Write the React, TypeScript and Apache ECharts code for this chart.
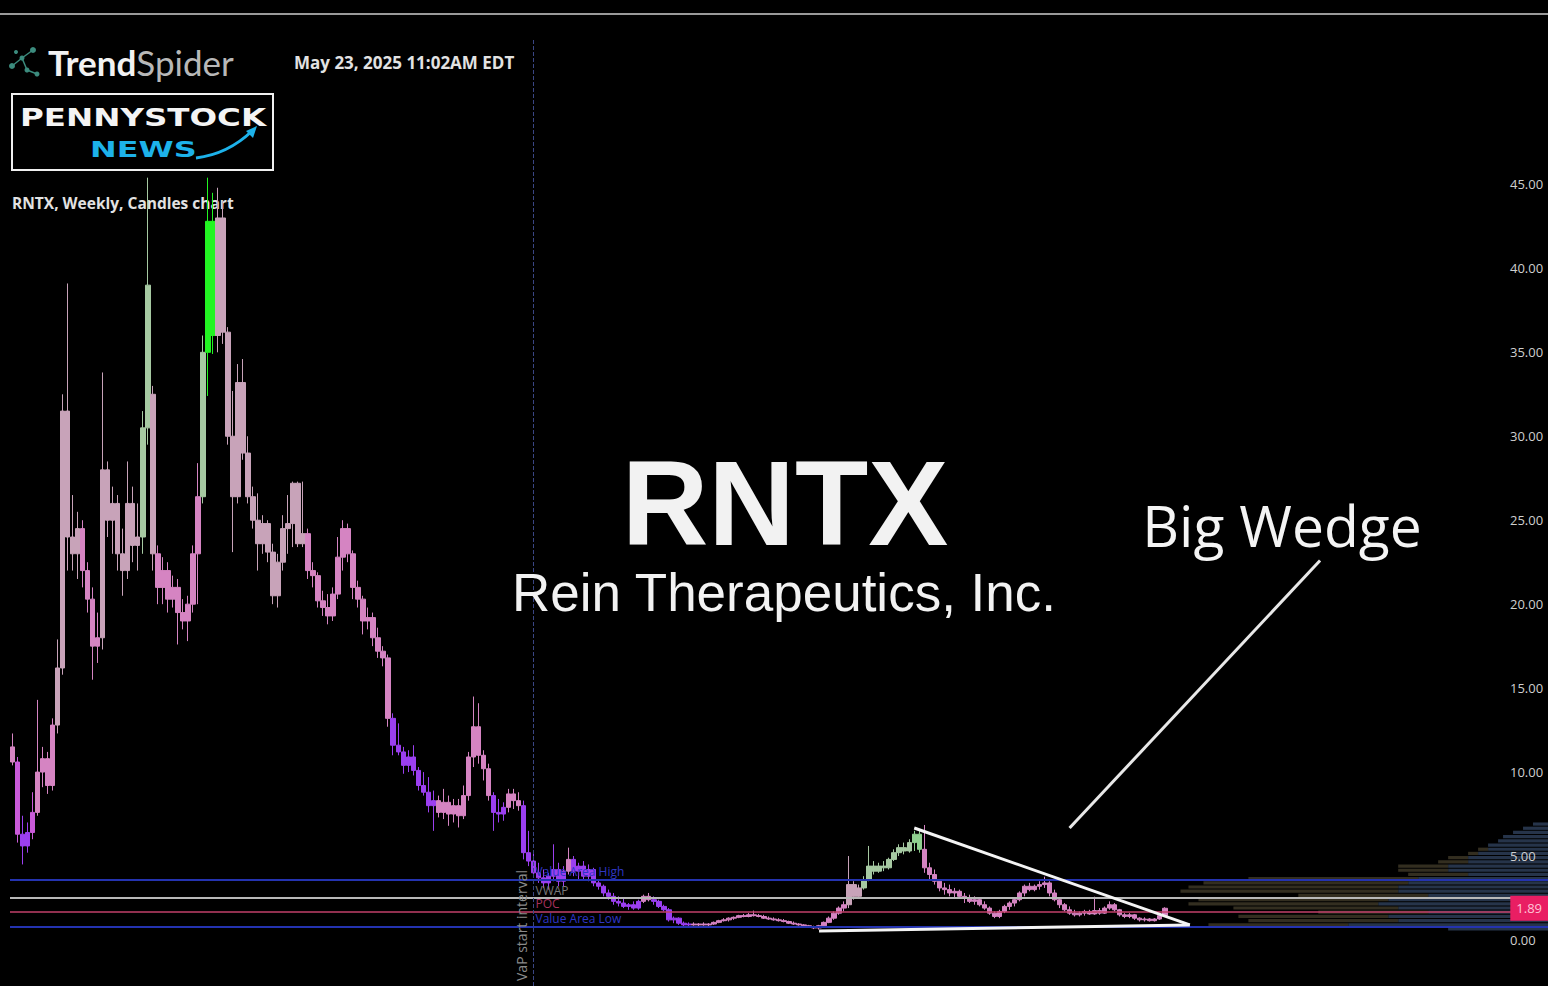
import React, { useEffect, useRef } from "react";
import * as echarts from "echarts";

// Weekly OHLC: [open, close, low, high]
const ohlcRally: number[][] = [
  [11.5, 10.6, 10.4, 12.3], [10.6, 6.3, 5.8, 10.9], [6.3, 5.6, 4.5, 7.4], [5.6, 6.4, 5.2, 7.0],
  [6.4, 7.6, 6.0, 8.8], [7.6, 10.0, 7.4, 14.3], [10.0, 10.8, 9.1, 11.5], [10.8, 9.2, 8.7, 11.2],
  [9.2, 12.8, 8.9, 13.2], [12.8, 16.2, 12.3, 17.9], [16.2, 31.5, 15.8, 32.5], [31.5, 24.0, 22.0, 39.1],
  [24.0, 23.0, 22.0, 26.5], [23.0, 24.5, 21.5, 25.5], [24.5, 22.0, 21.0, 25.0], [22.0, 20.3, 19.5, 22.5],
  [20.3, 17.5, 15.5, 21.0], [17.5, 18.0, 16.5, 19.5], [18.0, 28.0, 17.3, 33.8], [28.0, 25.0, 24.0, 28.5],
  [25.0, 26.0, 23.0, 27.0], [26.0, 23.0, 22.0, 26.5], [23.0, 22.0, 20.5, 24.5], [22.0, 26.0, 21.5, 28.5],
  [26.0, 23.5, 22.5, 27.0], [23.5, 24.0, 22.0, 26.0], [24.0, 30.5, 23.0, 31.5], [30.5, 39.0, 29.5, 45.4],
  [32.5, 23.0, 22.0, 33.0], [23.0, 21.0, 20.0, 23.5], [21.0, 22.0, 20.0, 22.8], [22.0, 20.3, 19.5, 22.5],
  [20.3, 21.0, 19.8, 21.7], [21.0, 19.5, 17.6, 21.5], [19.5, 19.0, 18.5, 20.3], [19.0, 20.0, 17.8, 20.5],
  [20.0, 23.0, 19.5, 23.5], [23.0, 26.4, 20.0, 28.4], [26.4, 35.0, 26.0, 36.0], [35.0, 42.8, 32.4, 45.4],
  [42.8, 36.0, 34.9, 44.5], [36.0, 43.0, 35.0, 44.8], [43.0, 36.2, 35.5, 44.0], [36.2, 30.0, 29.5, 36.5],
  [30.0, 26.4, 23.1, 32.7], [26.4, 33.2, 26.0, 34.3], [33.2, 29.0, 28.6, 34.6], [29.0, 26.4, 26.0, 30.0],
  [26.4, 25.0, 24.5, 27.0], [25.0, 23.6, 22.0, 26.6], [23.6, 24.8, 23.0, 25.3], [24.8, 23.1, 22.5, 25.0],
  [23.1, 20.5, 20.0, 23.6], [20.5, 22.5, 19.8, 23.0], [22.5, 24.5, 22.0, 25.3], [24.5, 24.8, 23.0, 26.5],
  [24.8, 27.2, 23.4, 27.3], [27.2, 23.6, 23.4, 27.3], [23.6, 24.2, 23.4, 27.3],
];

const ohlcDecline: number[][] = [
  [24.2, 22.0, 21.5, 24.5], [22.0, 21.7, 21.0, 22.5], [21.7, 20.2, 19.8, 21.9], [20.2, 19.8, 19.3, 20.8],
  [19.8, 19.3, 18.8, 20.6], [19.3, 20.6, 19.0, 21.0], [20.6, 22.8, 20.3, 24.0], [22.8, 24.5, 22.0, 25.0],
  [24.5, 23.0, 22.5, 24.8], [23.0, 21.0, 20.3, 23.2], [21.0, 20.3, 19.8, 21.4], [20.3, 19.0, 18.2, 20.5],
  [19.0, 19.2, 18.5, 19.8], [19.2, 18.0, 17.5, 19.5], [18.0, 17.2, 16.8, 18.6], [17.2, 16.8, 16.3, 17.5],
  [16.8, 13.2, 12.7, 17.0], [13.2, 11.6, 11.0, 13.5], [11.6, 11.2, 11.0, 12.9], [11.2, 10.4, 9.9, 11.5],
  [10.4, 10.9, 10.0, 11.3], [10.9, 10.1, 9.8, 11.6], [10.1, 9.2, 8.9, 10.3], [9.2, 8.8, 8.6, 10.0],
  [8.8, 8.0, 7.6, 9.7], [8.0, 8.3, 6.5, 8.9], [8.3, 7.6, 7.3, 8.6], [7.6, 8.2, 7.2, 9.0],
  [8.2, 7.5, 6.8, 8.6], [7.5, 8.0, 7.0, 8.4], [8.0, 7.4, 6.7, 8.4], [7.4, 8.6, 7.2, 9.2],
  [8.6, 10.9, 8.3, 11.2], [10.9, 12.7, 10.3, 14.5], [12.7, 11.0, 10.5, 14.1], [11.0, 10.2, 9.5, 11.3],
  [10.2, 8.6, 8.3, 10.5], [8.6, 7.6, 6.5, 8.8], [7.6, 7.5, 7.0, 8.4], [7.5, 7.9, 7.1, 8.2],
  [7.9, 8.7, 7.6, 9.0], [8.7, 8.3, 7.8, 9.0], [8.3, 8.0, 7.7, 8.8],
];

const ohlcBase: number[][] = [
  [8.0, 5.2, 4.8, 8.3], [5.2, 4.7, 4.4, 6.5], [4.7, 4.0, 3.8, 5.2], [4.0, 3.7, 3.4, 4.6],
  [3.7, 3.4, 3.1, 4.2], [3.4, 3.8, 3.0, 4.0], [3.8, 4.2, 3.5, 5.7], [4.2, 3.5, 3.2, 4.6],
  [3.5, 4.1, 3.2, 4.4], [4.1, 4.8, 3.9, 5.5], [4.8, 4.1, 3.8, 5.0], [4.1, 4.4, 3.6, 4.6],
  [4.4, 3.8, 3.6, 4.7], [3.8, 4.2, 3.5, 4.5], [4.2, 3.4, 3.2, 4.3], [3.4, 3.2, 3.0, 3.6],
  [3.2, 2.8, 2.6, 3.3], [2.8, 2.6, 2.4, 3.0], [2.6, 2.3, 2.1, 2.8], [2.3, 2.2, 2.0, 2.6],
  [2.2, 2.0, 1.9, 2.5], [2.0, 2.1, 1.8, 2.2], [2.1, 1.9, 1.8, 2.3], [1.9, 2.3, 1.8, 2.4],
  [2.3, 2.6, 2.2, 2.7], [2.6, 2.4, 2.3, 2.8], [2.4, 2.3, 2.1, 2.6], [2.3, 2.0, 1.9, 2.4],
  [2.0, 1.8, 1.7, 2.1], [1.8, 1.2, 1.1, 1.9], [1.2, 1.3, 1.0, 1.4], [1.3, 1.0, 0.9, 1.35],
  [1.0, 0.9, 0.8, 1.1], [0.9, 0.95, 0.8, 1.05], [0.95, 0.9, 0.85, 1.05], [0.9, 0.95, 0.8, 1.0],
  [0.95, 0.9, 0.85, 1.05], [0.9, 0.95, 0.8, 1.0], [0.95, 1.05, 0.9, 1.1], [1.05, 1.15, 1.0, 1.2],
  [1.15, 1.2, 1.1, 1.3], [1.2, 1.3, 1.1, 1.35], [1.3, 1.35, 1.2, 1.4], [1.35, 1.45, 1.3, 1.5],
  [1.45, 1.4, 1.35, 1.55], [1.4, 1.5, 1.35, 1.6], [1.5, 1.45, 1.4, 1.75], [1.45, 1.4, 1.35, 1.55],
  [1.4, 1.3, 1.25, 1.5], [1.3, 1.25, 1.2, 1.4], [1.25, 1.2, 1.15, 1.35], [1.2, 1.15, 1.1, 1.3],
  [1.15, 1.1, 1.05, 1.25], [1.1, 1.0, 0.95, 1.15], [1.0, 0.95, 0.9, 1.1], [0.95, 0.9, 0.85, 1.0],
  [0.9, 0.85, 0.8, 0.95], [0.85, 0.78, 0.72, 0.9], [0.78, 0.72, 0.65, 0.85], [0.72, 0.85, 0.62, 0.9],
  [0.85, 1.05, 0.8, 1.1], [1.05, 1.3, 1.0, 1.4], [1.3, 1.6, 1.2, 1.7], [1.6, 1.9, 1.5, 2.0],
  [1.9, 2.1, 1.7, 2.3],
];

const ohlcWedge: number[][] = [
  [2.1, 3.3, 1.9, 5.0], [3.3, 2.6, 2.4, 3.5], [2.6, 3.1, 2.5, 3.3], [3.1, 3.6, 3.0, 3.8],
  [3.6, 4.4, 3.5, 5.6], [4.4, 4.1, 3.9, 4.7], [4.1, 4.4, 4.0, 4.6], [4.4, 4.3, 4.1, 4.7],
  [4.3, 4.8, 4.2, 4.9], [4.8, 5.2, 4.7, 5.4], [5.2, 5.5, 5.0, 5.7], [5.5, 5.3, 5.1, 5.8],
  [5.3, 5.8, 5.2, 6.0], [5.8, 6.3, 5.3, 6.5], [6.3, 5.4, 5.2, 6.6], [5.4, 4.3, 4.0, 6.85],
  [4.3, 3.9, 3.6, 4.6], [3.9, 3.5, 3.3, 4.2], [3.5, 3.1, 2.9, 3.6], [3.1, 3.0, 2.7, 3.4],
  [3.0, 2.8, 2.6, 3.3], [2.8, 2.9, 2.5, 3.1], [2.9, 2.6, 2.5, 3.0], [2.6, 2.5, 2.2, 2.8],
  [2.5, 2.3, 2.2, 2.7], [2.3, 2.4, 2.1, 2.6], [2.4, 2.1, 2.0, 2.5], [2.1, 1.9, 1.8, 2.3],
  [1.9, 1.6, 1.5, 2.0], [1.6, 1.4, 1.3, 1.7], [1.4, 1.7, 1.3, 1.8], [1.7, 2.0, 1.6, 2.1],
  [2.0, 2.2, 1.8, 2.3], [2.2, 2.4, 2.0, 2.5], [2.4, 2.8, 2.3, 2.9], [2.8, 3.2, 2.6, 3.3],
  [3.2, 3.0, 2.9, 3.4], [3.0, 3.2, 2.9, 3.3], [3.2, 3.3, 3.0, 3.5], [3.3, 3.4, 3.1, 3.77],
  [3.4, 2.8, 2.6, 3.5], [2.8, 2.4, 2.3, 3.0], [2.4, 2.1, 1.9, 2.5], [2.1, 1.8, 1.7, 2.2],
  [1.8, 1.6, 1.5, 2.0], [1.6, 1.5, 1.4, 1.8], [1.5, 1.6, 1.4, 1.7], [1.6, 1.7, 1.45, 1.8],
  [1.7, 1.55, 1.5, 1.8], [1.55, 1.75, 1.5, 2.58], [1.75, 1.6, 1.5, 1.9], [1.6, 1.9, 1.55, 2.0],
  [1.9, 2.1, 1.8, 2.3], [2.1, 1.8, 1.7, 2.2], [1.8, 1.5, 1.4, 1.85], [1.5, 1.4, 1.3, 1.6],
  [1.4, 1.5, 1.3, 1.6], [1.5, 1.3, 1.2, 1.55], [1.3, 1.2, 1.1, 1.35], [1.2, 1.25, 1.1, 1.35],
  [1.25, 1.15, 1.1, 1.3], [1.15, 1.25, 1.1, 1.3], [1.25, 1.45, 1.2, 1.5], [1.45, 1.89, 1.4, 1.95],
];

// Trend-state coloring runs (indicator state, number of weeks)
// N = neutral, W = weak, B = bearish, U = bullish, S = strong bullish, M = capitulation, P = bullish peak
const trendRuns: [string, number][] = [
  ["W", 1], ["M", 1], ["B", 2], ["M", 1], ["W", 4], ["N", 2], ["N", 3], ["W", 4], ["N", 8],
  ["U", 2], ["N", 1], ["W", 9], ["U", 1], ["S", 2], ["N", 18], ["W", 17], ["B", 9], ["W", 11],
  ["B", 3], ["W", 3], ["B", 9], ["W", 1], ["B", 14], ["W", 2], ["B", 8], ["W", 31], ["N", 3],
  ["U", 10], ["P", 2], ["W", 49],
];

const priceTicks = [0, 5, 10, 15, 20, 25, 30, 35, 40, 45];
const valueAreaHigh = 3.6;
const vwapLevel = 2.5;
const pocLevel = 1.67;
const valueAreaLow = 0.78;
const lastPrice = 1.89;
const vapStartWeek = 104;
const totalWeeks = 307;

// trendline anchors: [week index, price]
const wedgeUpper: [number, number][] = [[180, 6.67], [235, 0.9]];
const wedgeLower: [number, number][] = [[161, 0.54], [235, 0.9]];
const wedgePointer: [number, number][] = [[211, 6.67], [261, 22.6]];

// Volume at price profile (bin floor, buy volume, sell volume)
const profileFloor = [0.5, 0.75, 1.0, 1.25, 1.5, 1.75, 2.0, 2.25, 2.5, 2.75, 3.0, 3.25, 3.5, 3.75, 4.0, 4.25, 4.5, 4.75, 5.0, 5.25, 5.5, 5.75, 6.0, 6.25, 6.5, 6.75];
const profileBuy = [100, 200, 150, 160, 120, 150, 170, 160, 120, 150, 150, 140, 130, 80, 100, 100, 80, 80, 70, 60, 60, 50, 45, 35, 25, 15];
const profileSell = [0, 140, 150, 150, 110, 165, 190, 190, 130, 218, 210, 205, 170, 60, 50, 50, 30, 20, 10, 10, 0, 0, 0, 0, 0, 0];
const profileBin = 0.25;

const stateColor: Record<string, string> = {
  N: "#c8a3b9",
  W: "#d584c2",
  B: "#9b3ff0",
  U: "#a6c9a2",
  S: "#22f522",
  M: "#c95ad9",
  P: "#8fd08f",
};

export default function App() {
  const ref = useRef<HTMLDivElement>(null);

  useEffect(() => {
    if (!ref.current) return;
    const chart = echarts.init(ref.current, undefined, { renderer: "svg" });

    const weeks = Array.from({ length: totalWeeks }, (_, i) => `W${i + 1}`);
    const ohlc = [...ohlcRally, ...ohlcDecline, ...ohlcBase, ...ohlcWedge];
    const states: string[] = [];
    trendRuns.forEach(([s, n]) => {
      for (let k = 0; k < n; k++) states.push(s);
    });
    const candleData = ohlc.map((v, i) => {
      const c = stateColor[states[i] || "W"];
      return { value: v, itemStyle: { color: c, color0: c, borderColor: c, borderColor0: c } };
    });

    const seg = (pts: [number, number][], style: any) => [
      { coord: [weeks[pts[0][0]], pts[0][1]], lineStyle: style },
      { coord: [weeks[pts[1][0]], pts[1][1]] },
    ];
    const levelLabel = (y: number, name: string, color: string) => [
      {
        coord: [weeks[vapStartWeek], y],
        lineStyle: { color: "rgba(0,0,0,0)", width: 0 },
        label: {
          show: true,
          position: "insideStartTop",
          formatter: name,
          color,
          fontSize: 12,
          lineHeight: 12,
          fontFamily: "Open Sans",
          distance: 2,
        },
      },
      { coord: [weeks[totalWeeks - 1], y] },
    ];

    const white = { color: "#f4f4f4", width: 3, type: "solid" };

    const option: any = {
      animation: false,
      backgroundColor: "#000000",
      grid: { left: 10, right: 0, top: 40, bottom: 0 },
      xAxis: [
        {
          type: "category",
          data: weeks,
          show: false,
          boundaryGap: true,
        },
        { type: "value", min: 0, max: 1540, inverse: true, show: false },
      ],
      yAxis: {
        type: "value",
        position: "right",
        min: -2.74,
        max: 53.6,
        z: 6,
        splitLine: { show: false },
        axisLine: { show: false },
        axisTick: { show: false },
        axisLabel: {
          inside: true,
          margin: 38,
          align: "left",
          customValues: priceTicks,
          formatter: (v: number) => v.toFixed(2),
          color: "#cfcfcf",
          fontSize: 13,
          fontFamily: "Open Sans",
        },
      },
      series: [
        {
          type: "custom",
          xAxisIndex: 1,
          yAxisIndex: 0,
          silent: true,
          z: 1,
          data: profileFloor.map((p, i) => [p, profileBuy[i], profileSell[i]]),
          encode: { x: [1, 2], y: 0 },
          renderItem: (params: any, api: any) => {
            const low = api.value(0);
            const buy = api.value(1);
            const sell = api.value(2);
            const top = low + profileBin;
            const a = api.coord([0, top]);
            const b = api.coord([buy, low]);
            const c = api.coord([buy + sell, low]);
            const h = Math.max(1, b[1] - a[1] - 1);
            return {
              type: "group",
              children: [
                { type: "rect", shape: { x: b[0], y: a[1], width: a[0] - b[0], height: h }, style: { fill: "#26344a" } },
                { type: "rect", shape: { x: c[0], y: a[1], width: b[0] - c[0], height: h }, style: { fill: "#332e20" } },
              ],
            };
          },
        },
        {
          type: "candlestick",
          xAxisIndex: 0,
          yAxisIndex: 0,
          barWidth: 5,
          z: 3,
          data: candleData,
          markLine: {
            silent: true,
            symbol: ["none", "none"],
            z: 4,
            label: { show: false },
            data: [
              { yAxis: valueAreaHigh, lineStyle: { color: "#2433b0", width: 2, type: "solid" } },
              { yAxis: vwapLevel, lineStyle: { color: "#b8b8b8", width: 2, type: "solid" } },
              { yAxis: pocLevel, lineStyle: { color: "#c2406a", width: 1.5, type: "solid" } },
              { yAxis: valueAreaLow, lineStyle: { color: "#2433b0", width: 2, type: "solid" } },
              levelLabel(valueAreaHigh, "Value Area High", "#2e36c4"),
              levelLabel(vwapLevel, "VWAP", "#7a7a7a"),
              levelLabel(pocLevel, "POC", "#a8305c"),
              levelLabel(valueAreaLow, "Value Area Low", "#2e36c4"),
              {
                xAxis: weeks[vapStartWeek],
                lineStyle: { color: "#3a4684", width: 1, type: "dashed" },
                label: {
                  show: true,
                  position: "insideStartTop",
                  formatter: "VaP start interval",
                  color: "#8a8a8a",
                  fontSize: 14,
                  fontFamily: "Open Sans",
                },
              },
              seg(wedgeUpper, white),
              seg(wedgeLower, white),
              seg(wedgePointer, { color: "#e8e8e8", width: 3, type: "solid" }),
              {
                yAxis: lastPrice,
                lineStyle: { color: "rgba(0,0,0,0)", width: 0 },
                label: {
                  show: true,
                  position: "insideEnd",
                  distance: 0,
                  formatter: lastPrice.toFixed(2),
                  backgroundColor: "#e91e63",
                  color: "#ffc4d6",
                  padding: [6, 6],
                  fontSize: 13,
                  fontFamily: "Open Sans",
                },
              },
            ],
          },
        },
      ],
      graphic: [
        { type: "line", shape: { x1: 0, y1: 14, x2: 1548, y2: 14 }, style: { stroke: "#9a9a9a", lineWidth: 2 } },
        // TrendSpider icon
        {
          type: "group",
          children: [
            { type: "line", shape: { x1: 12, y1: 66, x2: 22, y2: 58 }, style: { stroke: "#3c8c7e", lineWidth: 1.5 } },
            { type: "line", shape: { x1: 22, y1: 58, x2: 33, y2: 50 }, style: { stroke: "#3c8c7e", lineWidth: 1.5 } },
            { type: "line", shape: { x1: 22, y1: 58, x2: 27, y2: 70 }, style: { stroke: "#3c8c7e", lineWidth: 1.5 } },
            { type: "line", shape: { x1: 27, y1: 70, x2: 37, y2: 74 }, style: { stroke: "#3c8c7e", lineWidth: 1.5 } },
            { type: "circle", shape: { cx: 12, cy: 66, r: 3 }, style: { fill: "#3c8c7e" } },
            { type: "circle", shape: { cx: 22, cy: 58, r: 2.5 }, style: { fill: "#3c8c7e" } },
            { type: "circle", shape: { cx: 33, cy: 50, r: 3 }, style: { fill: "#3c8c7e" } },
            { type: "circle", shape: { cx: 16, cy: 52, r: 2 }, style: { fill: "#3c8c7e" } },
            { type: "circle", shape: { cx: 27, cy: 70, r: 2.5 }, style: { fill: "#3c8c7e" } },
            { type: "circle", shape: { cx: 37, cy: 74, r: 2.5 }, style: { fill: "#3c8c7e" } },
          ],
        },
        {
          type: "text",
          x: 48,
          y: 62,
          style: {
            text: "{a|Trend}{b|Spider}",
            verticalAlign: "middle",
            rich: {
              a: { fontFamily: "Lato", fontWeight: "bold", fontSize: 35, fill: "#f2f2f2", color: "#f2f2f2" },
              b: { fontFamily: "Lato", fontWeight: "normal", fontSize: 35, fill: "#b8b8b8", color: "#b8b8b8" },
            },
          },
        },
        {
          type: "text",
          x: 294,
          y: 62,
          style: { text: "May 23, 2025 11:02AM EDT", fontFamily: "Open Sans", fontWeight: "bold", fontSize: 17, fill: "#e2e2e2", verticalAlign: "middle" },
        },
        {
          type: "rect",
          shape: { x: 12, y: 94, width: 261, height: 76 },
          style: { fill: "#000", stroke: "#f0f0f0", lineWidth: 2 },
        },
        {
          type: "text",
          x: 20,
          y: 117,
          scaleX: 1.3,
          style: { text: "PENNYSTOCK", fontFamily: "DejaVu Sans", fontWeight: "bold", fontSize: 25, fill: "#f4f4f4", verticalAlign: "middle" },
        },
        {
          type: "text",
          x: 90,
          y: 149,
          scaleX: 1.45,
          style: { text: "NEWS", fontFamily: "DejaVu Sans", fontWeight: "bold", fontSize: 22, fill: "#1db2ea", verticalAlign: "middle" },
        },
        {
          type: "bezierCurve",
          shape: { x1: 196, y1: 158, cpx1: 228, cpy1: 154, x2: 252, y2: 131 },
          style: { stroke: "#1db2ea", lineWidth: 3, fill: null },
        },
        {
          type: "polygon",
          shape: { points: [[246, 131], [257, 126], [253, 138]] },
          style: { fill: "#1db2ea" },
        },
        {
          type: "text",
          x: 12,
          y: 203,
          style: { text: "RNTX, Weekly, Candles chart", fontFamily: "Open Sans", fontWeight: "bold", fontSize: 15.5, fill: "#e2e2e2", verticalAlign: "middle" },
        },
        {
          type: "text",
          x: 785,
          y: 503,
          z: 10,
          style: { text: "RNTX", fontFamily: "Liberation Sans", fontWeight: "bold", fontSize: 120, fill: "#f2f2f2", align: "center", verticalAlign: "middle" },
        },
        {
          type: "text",
          x: 784,
          y: 592,
          z: 10,
          style: { text: "Rein Therapeutics, Inc.", fontFamily: "Liberation Sans", fontSize: 53, fill: "#f2f2f2", align: "center", verticalAlign: "middle" },
        },
        {
          type: "text",
          x: 1282,
          y: 525,
          z: 10,
          style: { text: "Big Wedge", fontFamily: "Open Sans", fontSize: 57, fill: "#f4f4f4", align: "center", verticalAlign: "middle" },
        },
      ],
    };

    chart.setOption(option);
    return () => chart.dispose();
  }, []);

  return (
    <div
      ref={ref}
      style={{ position: "fixed", left: 0, top: 0, width: 1548, height: 986, background: "#000" }}
    />
  );
}
